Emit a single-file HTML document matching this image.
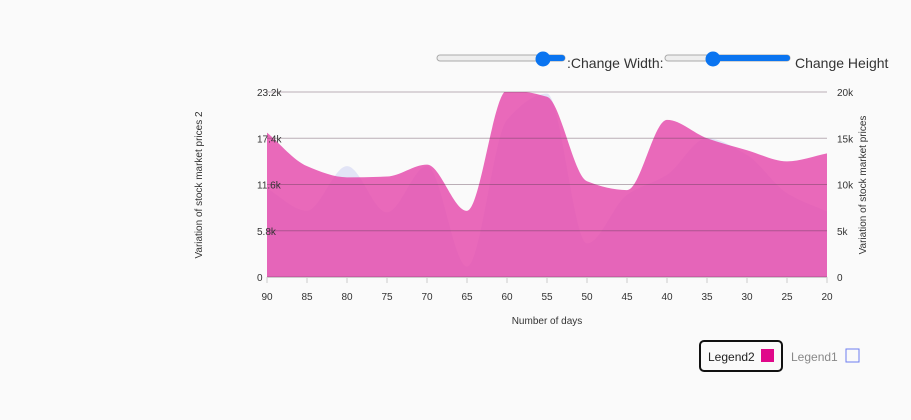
<!DOCTYPE html>
<html><head><meta charset="utf-8"><style>
body{margin:0;background:#fafafa;font-family:"Liberation Sans",sans-serif;}
#wrap{position:relative;width:911px;height:420px;overflow:hidden;background:#fafafa}
</style></head><body>
<div id="wrap">
<svg width="911" height="420" style="position:absolute;left:0;top:0">
<defs><clipPath id="clip"><rect x="267" y="92" width="560" height="185"/></clipPath></defs>
<g>
<rect x="437" y="55" width="128" height="6" rx="3" fill="#eee" stroke="#aaa"/>
<rect x="543" y="55" width="22" height="6" rx="3" fill="#0a74f0"/>
<circle cx="543" cy="59" r="7.5" fill="#0a74f0"/></g>
<g>
<rect x="665" y="55" width="125" height="6" rx="3" fill="#eee" stroke="#aaa"/>
<rect x="713" y="55" width="77" height="6" rx="3" fill="#0a74f0"/>
<circle cx="713" cy="59" r="7.5" fill="#0a74f0"/></g>
<text x="567" y="68" font-size="14" fill="#333">:Change Width:</text>
<text x="795" y="68" font-size="14" fill="#333">Change Height</text>
<g id="chart"></g>
<g>
<rect x="700" y="341" width="82" height="30" rx="4" fill="none" stroke="#111" stroke-width="2"/>
<text x="708" y="361" font-size="12" fill="#222">Legend2</text>
<rect x="761" y="349" width="13" height="13" fill="#e0088a"/>
<text x="791" y="361" font-size="12" fill="#888">Legend1</text>
<rect x="846" y="349" width="13" height="13" fill="none" stroke="#6f7ff0"/>
</g>
</svg>
</div>
<script>
const categories=[90,85,80,75,70,65,60,55,50,45,40,35,30,25,20];
const series2=[18.1,13.9,12.5,12.6,14.1,8.3,23.4,22.6,12.0,10.9,19.7,17.4,15.9,14.5,15.5];
const series1=[11.1,8.3,13.9,8.1,13.9,1.3,19.7,23.0,4.2,10.3,12.8,17.4,15.3,10.5,8.2];
const leftTicks=["0","5.8k","11.6k","17.4k","23.2k"];
const leftTickVals=[0,5.8,11.6,17.4,23.2];
const rightTicks=["0","5k","10k","15k","20k"];
const X0=267,X1=827,Y0=277,Y1=92,YMAX=23.2;
const xs=i=>X0+i*(X1-X0)/(categories.length-1);
const ys=v=>Y0-v/YMAX*(Y0-Y1);
const NS="http://www.w3.org/2000/svg";
const g=document.getElementById('chart');
function mk(t,a){const e=document.createElementNS(NS,t);for(const k in a)e.setAttribute(k,a[k]);g.appendChild(e);return e;}
function path(vals){const p=vals.map((v,i)=>[xs(i),ys(v)]);const n=p.length;
const h=p[1][0]-p[0][0];const s=[];for(let i=0;i<n-1;i++)s.push((p[i+1][1]-p[i][1])/h);
const m=[];for(let i=0;i<n;i++){if(i==0)m.push(s[0]);else if(i==n-1)m.push(s[n-2]);
else m.push(s[i-1]*s[i]<=0?0:2/(1/s[i-1]+1/s[i]));}
let d=`M${p[0][0]},${p[0][1]}`;
for(let i=0;i<n-1;i++){d+=` C${p[i][0]+h/3},${p[i][1]+m[i]*h/3} ${p[i+1][0]-h/3},${p[i+1][1]-m[i+1]*h/3} ${p[i+1][0]},${p[i+1][1]}`;}
return d;}
const a1=mk('path',{d:path(series1)+` L${X1},${Y0} L${X0},${Y0} Z`,fill:'#e2e4f6','clip-path':'url(#clip)'});

const a2=mk('path',{d:path(series2)+` L${X1},${Y0} L${X0},${Y0} Z`,fill:'#e54fae','fill-opacity':0.85,'clip-path':'url(#clip)'});

leftTickVals.forEach((v,i)=>{const l=mk('line',{x1:X0,x2:X1,y1:ys(v),y2:ys(v),stroke:'rgba(90,60,80,0.4)','stroke-width':1});
});
mk('line',{x1:X0,x2:X1,y1:Y0+0.5,y2:Y0+0.5,stroke:'#ccc'});
leftTickVals.forEach((v,i)=>{const t=mk('text',{x:257,y:ys(v)+4,'font-size':10,fill:'#333'});t.textContent=leftTicks[i];

const r=mk('text',{x:837,y:ys(v)+4,'font-size':10,fill:'#333'});r.textContent=rightTicks[i];
});
categories.forEach((c,i)=>{mk('line',{x1:xs(i),x2:xs(i),y1:Y0,y2:Y0+6,stroke:'#ccc'});
const t=mk('text',{x:xs(i),y:300,'font-size':10,fill:'#333','text-anchor':'middle'});t.textContent=c;
});
const xt=mk('text',{x:547,y:324,'font-size':10,fill:'#333','text-anchor':'middle'});xt.textContent='Number of days';

const yl=mk('text',{transform:'translate(202,185) rotate(-90)','font-size':10,fill:'#333','text-anchor':'middle'});yl.textContent='Variation of stock market prices 2';

const yr=mk('text',{transform:'translate(866,185) rotate(-90)','font-size':10,fill:'#333','text-anchor':'middle'});yr.textContent='Variation of stock market prices';

</script>
</body></html>
